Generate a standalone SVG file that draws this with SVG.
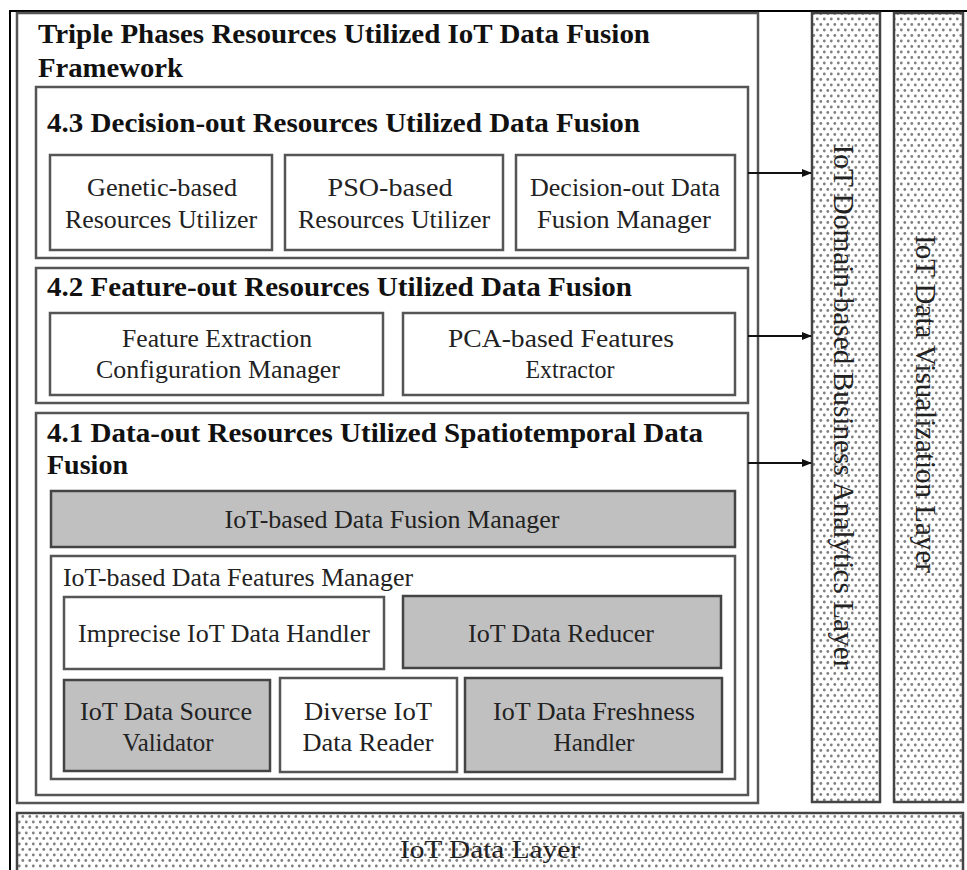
<svg xmlns="http://www.w3.org/2000/svg" width="967" height="870" viewBox="0 0 967 870">
<defs>
<pattern id="dots" width="7" height="11" patternUnits="userSpaceOnUse">
<rect width="7" height="11" fill="#ffffff"/>
<circle cx="1.8" cy="2.5" r="1.4" fill="#808080"/>
<circle cx="5.3" cy="8" r="1.4" fill="#808080"/>
</pattern>
<marker id="arr" markerWidth="10" markerHeight="8" refX="9" refY="4" orient="auto" markerUnits="userSpaceOnUse">
<path d="M0,0 L10,4 L0,8 Z" fill="#111"/>
</marker>
<style>
.box{fill:#fff;stroke:#555;stroke-width:2.5}
.gray{fill:#c0c0c0;stroke:#444;stroke-width:2.5}
.layer{fill:url(#dots);stroke:#444;stroke-width:2.5}
.t{font-family:"Liberation Serif","Times New Roman",serif;font-size:26px;fill:#222;text-anchor:middle}
.tl{font-family:"Liberation Serif","Times New Roman",serif;font-size:26px;fill:#222}
.h{font-family:"Liberation Serif","Times New Roman",serif;font-size:28px;font-weight:bold;fill:#111}
.v{font-family:"Liberation Serif","Times New Roman",serif;font-size:29px;fill:#222;text-anchor:middle}
.conn{stroke:#111;stroke-width:2;fill:none}
</style>
</defs>
<rect width="967" height="870" fill="#fff"/>
<path d="M10,870 V11 H967" fill="none" stroke="#000" stroke-width="2"/>

<g id="framework">
<rect class="box" x="17" y="13" width="741" height="790"/>
<text class="h" x="38" y="43" textLength="612" lengthAdjust="spacingAndGlyphs">Triple Phases Resources Utilized IoT Data Fusion</text>
<text class="h" x="38" y="77" textLength="145" lengthAdjust="spacingAndGlyphs">Framework</text>
</g>

<g id="phase43">
<rect class="box" x="36" y="87" width="712" height="171"/>
<text class="h" x="47" y="132" textLength="593" lengthAdjust="spacingAndGlyphs">4.3 Decision-out Resources Utilized Data Fusion</text>
</g>
<g id="genetic">
<rect class="box" x="50" y="155" width="222" height="95"/>
<text class="t" x="162" y="196" textLength="150" lengthAdjust="spacingAndGlyphs">Genetic-based</text>
<text class="t" x="161" y="228" textLength="192" lengthAdjust="spacingAndGlyphs">Resources Utilizer</text>
</g>
<g id="pso">
<rect class="box" x="285" y="155" width="218" height="95"/>
<text class="t" x="390" y="196" textLength="125" lengthAdjust="spacingAndGlyphs">PSO-based</text>
<text class="t" x="394" y="228" textLength="192" lengthAdjust="spacingAndGlyphs">Resources Utilizer</text>
</g>
<g id="decisionmgr">
<rect class="box" x="516" y="155" width="219" height="95"/>
<text class="t" x="625" y="196" textLength="190" lengthAdjust="spacingAndGlyphs">Decision-out Data</text>
<text class="t" x="624" y="228" textLength="174" lengthAdjust="spacingAndGlyphs">Fusion  Manager</text>
</g>

<g id="phase42">
<rect class="box" x="36" y="268" width="712" height="135"/>
<text class="h" x="47" y="296" textLength="585" lengthAdjust="spacingAndGlyphs">4.2 Feature-out Resources Utilized Data Fusion</text>
</g>
<g id="featcfg">
<rect class="box" x="50" y="313" width="333" height="82"/>
<text class="t" x="217" y="347" textLength="190" lengthAdjust="spacingAndGlyphs">Feature Extraction</text>
<text class="t" x="218" y="378" textLength="244" lengthAdjust="spacingAndGlyphs">Configuration Manager</text>
</g>
<g id="pca">
<rect class="box" x="403" y="313" width="332" height="82"/>
<text class="t" x="561" y="347" textLength="226" lengthAdjust="spacingAndGlyphs">PCA-based Features</text>
<text class="t" x="570" y="378" textLength="89" lengthAdjust="spacingAndGlyphs">Extractor</text>
</g>

<g id="phase41">
<rect class="box" x="36" y="413" width="712" height="382"/>
<text class="h" x="47" y="442" textLength="656" lengthAdjust="spacingAndGlyphs">4.1 Data-out Resources Utilized Spatiotemporal Data</text>
<text class="h" x="47" y="474" textLength="81" lengthAdjust="spacingAndGlyphs">Fusion</text>
</g>
<g id="fusionmgr">
<rect class="gray" x="51" y="491" width="684" height="56"/>
<text class="t" x="392" y="528" textLength="335" lengthAdjust="spacingAndGlyphs">IoT-based Data Fusion Manager</text>
</g>
<g id="featuresmgr">
<rect class="box" x="51" y="556" width="684" height="223"/>
<text class="tl" x="63" y="586" textLength="350" lengthAdjust="spacingAndGlyphs">IoT-based Data Features Manager</text>
</g>
<g id="imprecise">
<rect class="box" x="64" y="597" width="320" height="72"/>
<text class="t" x="224" y="642" textLength="292" lengthAdjust="spacingAndGlyphs">Imprecise IoT Data Handler</text>
</g>
<g id="reducer">
<rect class="gray" x="403" y="596" width="318" height="72"/>
<text class="t" x="561" y="642" textLength="186" lengthAdjust="spacingAndGlyphs">IoT Data Reducer</text>
</g>
<g id="validator">
<rect class="gray" x="64" y="680" width="206" height="91"/>
<text class="t" x="166" y="720" textLength="172" lengthAdjust="spacingAndGlyphs">IoT Data Source</text>
<text class="t" x="168" y="751" textLength="91" lengthAdjust="spacingAndGlyphs">Validator</text>
</g>
<g id="reader">
<rect class="box" x="280" y="678" width="177" height="94"/>
<text class="t" x="368" y="720" textLength="128" lengthAdjust="spacingAndGlyphs">Diverse IoT</text>
<text class="t" x="368" y="751" textLength="131" lengthAdjust="spacingAndGlyphs">Data Reader</text>
</g>
<g id="freshness">
<rect class="gray" x="465" y="678" width="257" height="94"/>
<text class="t" x="594" y="720" textLength="202" lengthAdjust="spacingAndGlyphs">IoT Data Freshness</text>
<text class="t" x="594" y="751" textLength="81" lengthAdjust="spacingAndGlyphs">Handler</text>
</g>

<g id="domainlayer">
<rect class="layer" x="812" y="13" width="68" height="789"/>
<text class="v" transform="translate(834,407) rotate(90)" textLength="525" lengthAdjust="spacingAndGlyphs">IoT Domain-based Business Analytics Layer</text>
</g>
<g id="vislayer">
<rect class="layer" x="894" y="13" width="69" height="789"/>
<text class="v" transform="translate(916,404) rotate(90)" textLength="338" lengthAdjust="spacingAndGlyphs">IoT Data Visualization Layer</text>
</g>
<g id="datalayer">
<rect class="layer" x="17" y="813" width="946" height="70"/>
<text class="t" x="490" y="858" textLength="180" lengthAdjust="spacingAndGlyphs">IoT Data Layer</text>
</g>

<g id="connectors">
<line class="conn" x1="748" y1="173" x2="811" y2="173" marker-end="url(#arr)"/>
<line class="conn" x1="748" y1="336" x2="811" y2="336" marker-end="url(#arr)"/>
<line class="conn" x1="748" y1="463" x2="811" y2="463" marker-end="url(#arr)"/>
</g>
</svg>
